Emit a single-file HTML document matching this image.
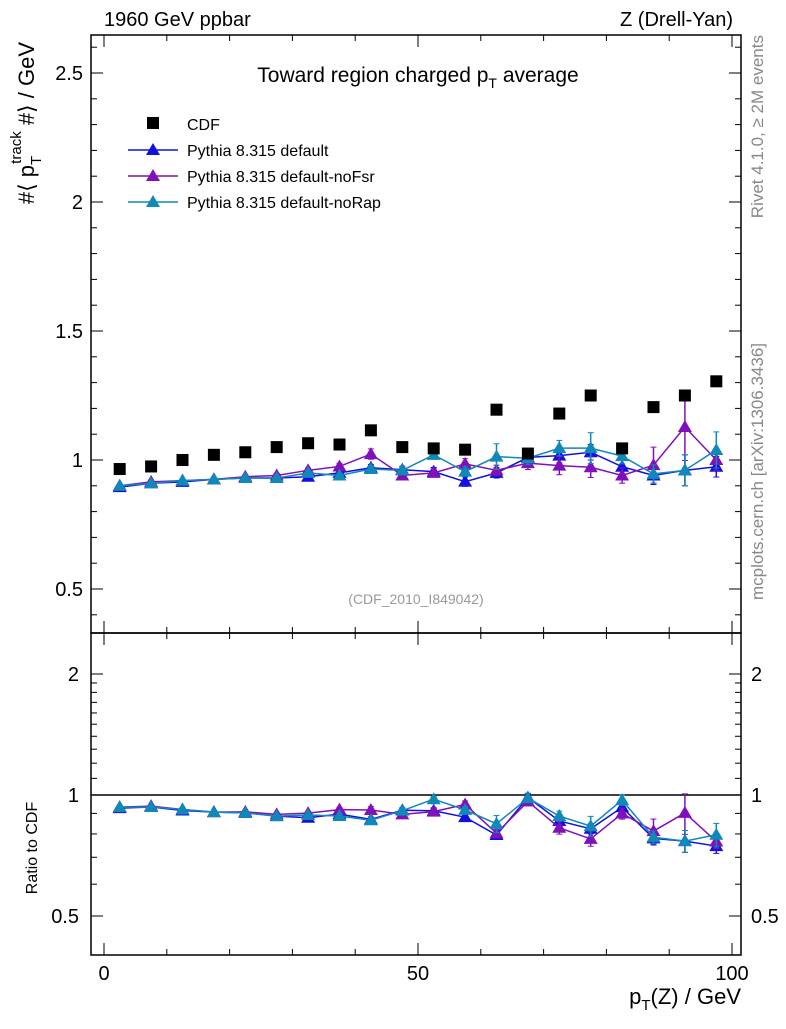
<!DOCTYPE html>
<html><head><meta charset="utf-8"><style>
body{margin:0;background:#fff;}
svg text{font-family:"Liberation Sans","DejaVu Sans",sans-serif;}
</style></head><body>
<svg id="c" width="786" height="1024" xmlns="http://www.w3.org/2000/svg"></svg>
<script>
const xCenters=[2.5,7.5,12.5,17.5,22.5,27.5,32.5,37.5,42.5,47.5,52.5,57.5,62.5,67.5,72.5,77.5,82.5,87.5,92.5,97.5];
const cdfVals=[0.965,0.975,1.0,1.02,1.03,1.05,1.065,1.06,1.115,1.05,1.045,1.04,1.195,1.025,1.18,1.25,1.045,1.205,1.25,1.305];
const defVals=[0.895,0.91,0.915,0.925,0.93,0.93,0.935,0.95,0.97,0.962,0.955,0.916,0.95,1.01,1.017,1.03,0.974,0.94,0.96,0.974];
const defErr=[0.005,0.005,0.006,0.006,0.007,0.008,0.009,0.01,0.012,0.014,0.016,0.018,0.02,0.025,0.028,0.03,0.03,0.035,0.06,0.04];
const nofsrVals=[0.9,0.915,0.92,0.925,0.935,0.94,0.96,0.975,1.023,0.94,0.95,0.985,0.96,0.988,0.978,0.972,0.94,0.98,1.128,1.0];
const nofsrErr=[0.005,0.005,0.006,0.006,0.007,0.008,0.009,0.012,0.02,0.014,0.016,0.02,0.02,0.025,0.035,0.04,0.03,0.07,0.13,0.04];
const norapVals=[0.9,0.91,0.92,0.925,0.93,0.93,0.95,0.94,0.965,0.96,1.02,0.955,1.013,1.007,1.046,1.046,1.015,0.946,0.96,1.039];
const norapErr=[0.005,0.005,0.006,0.006,0.007,0.008,0.009,0.01,0.012,0.014,0.016,0.018,0.05,0.025,0.03,0.06,0.03,0.035,0.06,0.07];
const mainTicks=[0.5,1,1.5,2,2.5];
const ratioTicks=[0.5,1,2];
const xTicks=[0,50,100];

const S=document.getElementById('c');
const NS='http://www.w3.org/2000/svg';
function el(t,a,p){const e=document.createElementNS(NS,t);for(const k in a)e.setAttribute(k,a[k]);(p||S).appendChild(e);return e;}
const L=91,R=741,T=35,M=633,B=955;
const X=v=>104+v*6.28;
const Y=v=>460-(v-1)*258;
const YR=v=>795-121*Math.log2(v);

let f1=el('rect',{x:L,y:T,width:R-L,height:M-T,fill:'none',stroke:'#000','stroke-width':1.5});


let f2=el('rect',{x:L,y:M,width:R-L,height:B-M,fill:'none',stroke:'#000','stroke-width':1.5});



for(let v=0;v<=100;v+=10){const major=v%50===0;const len=major?12:6;const x=X(v);
 el('line',{x1:x,x2:x,y1:M,y2:M-len,stroke:'#000'});el('line',{x1:x,x2:x,y1:T,y2:T+len,stroke:'#000'});
 el('line',{x1:x,x2:x,y1:B,y2:B-len,stroke:'#000'});el('line',{x1:x,x2:x,y1:M,y2:M+len,stroke:'#000'});}
xTicks.forEach(v=>{const t=el('text',{x:X(v),y:980,'font-size':20,'text-anchor':'middle'});t.textContent=v;
 
 });
for(let i=4;i<=26;i++){const v=i/10;const y=Y(v);if(y<T||y>M)continue;const major=i%5===0;const len=major?12:6;
 el('line',{x1:L,x2:L+len,y1:y,y2:y,stroke:'#000'});el('line',{x1:R,x2:R-len,y1:y,y2:y,stroke:'#000'});}
mainTicks.forEach(v=>{const t=el('text',{x:83,y:Y(v)+7,'font-size':20,'text-anchor':'end'});t.textContent=v;
 
 });
[0.5,0.6,0.7,0.8,0.9,1,1.1,1.2,1.3,1.4,1.5,1.6,1.7,1.8,1.9,2].forEach(v=>{const y=YR(v);const major=ratioTicks.includes(v);const len=major?12:6;
 el('line',{x1:L,x2:L+len,y1:y,y2:y,stroke:'#000'});el('line',{x1:R,x2:R-len,y1:y,y2:y,stroke:'#000'});});
ratioTicks.forEach(v=>{let t=el('text',{x:79,y:YR(v)+7,'font-size':20,'text-anchor':'end'});t.textContent=v;
 
 
 t=el('text',{x:751,y:YR(v)+7,'font-size':20});t.textContent=v;
 
 });
el('line',{x1:L,x2:R,y1:YR(1),y2:YR(1),stroke:'#000','stroke-width':1.5});

function txt(s,a,name){const t=el('text',a);t.innerHTML=s;return t;}
txt('1960 GeV ppbar',{x:104,y:26,'font-size':20},'energy-label');
txt('Z (Drell-Yan)',{x:733,y:26,'font-size':20,'text-anchor':'end'},'process-label');
txt('Toward region charged p<tspan font-size="14" dy="6">T</tspan><tspan dy="-6"> average</tspan>',{x:418,y:82,'font-size':21,'text-anchor':'middle'},'plot-title');
txt('(CDF_2010_I849042)',{x:416,y:604,'font-size':14,fill:'#999','text-anchor':'middle'},'analysis-label');
txt('p<tspan font-size="15" dy="6">T</tspan><tspan dy="-6">(Z) / GeV</tspan>',{x:741,y:1004,'font-size':22,'text-anchor':'end'},'x-axis-title');
txt('#⟨ p<tspan font-size="15" dy="7">T</tspan><tspan font-size="15" dy="-20" dx="-8">track</tspan><tspan dy="13"> #⟩ / GeV</tspan>',{x:0,y:0,'font-size':22,'text-anchor':'end',transform:'translate(34,42) rotate(-90)'},'y-axis-title');
txt('Ratio to CDF',{x:0,y:0,'font-size':16,'text-anchor':'middle',transform:'translate(37,848) rotate(-90)'},'ratio-axis-title');
txt('Rivet 4.1.0, ≥ 2M events',{x:0,y:0,'font-size':17,fill:'#888','text-anchor':'end',transform:'translate(763,35) rotate(-90)'},'rivet-label');
txt('mcplots.cern.ch [arXiv:1306.3436]',{x:0,y:0,'font-size':17,fill:'#888','text-anchor':'end',transform:'translate(763,343) rotate(-90)'},'mcplots-label');

function tri(x,y,c,g){el('polygon',{points:`${x},${y-7} ${x-7},${y+5} ${x+7},${y+5}`,fill:c},g);}
function series(vals,err,c,name){
 const g=el('g',{});
 el('polyline',{points:xCenters.map((x,i)=>X(x)+','+Y(vals[i])).join(' '),fill:'none',stroke:c,'stroke-width':1.5},g);
 el('polyline',{points:xCenters.map((x,i)=>X(x)+','+YR(vals[i]/cdfVals[i])).join(' '),fill:'none',stroke:c,'stroke-width':1.5},g);
 xCenters.forEach((x,i)=>{const px=X(x);
  const y1=Y(vals[i]+err[i]),y2=Y(vals[i]-err[i]);
  el('line',{x1:px,x2:px,y1:y1,y2:y2,stroke:c,'stroke-width':1.5},g);
  el('line',{x1:px-3,x2:px+3,y1:y1,y2:y1,stroke:c},g);el('line',{x1:px-3,x2:px+3,y1:y2,y2:y2,stroke:c},g);
  const r=vals[i]/cdfVals[i],re=err[i]/cdfVals[i];
  const r1=YR(r+re),r2=YR(r-re);
  el('line',{x1:px,x2:px,y1:r1,y2:r2,stroke:c,'stroke-width':1.5},g);
  el('line',{x1:px-3,x2:px+3,y1:r1,y2:r1,stroke:c},g);el('line',{x1:px-3,x2:px+3,y1:r2,y2:r2,stroke:c},g);
  tri(px,Y(vals[i]),c,g);tri(px,YR(r),c,g);});
}
series(defVals,defErr,'#1010e0','series-default');
series(nofsrVals,nofsrErr,'#8010b8','series-nofsr');
series(norapVals,norapErr,'#1088b8','series-norap');
const gc=el('g',{});
xCenters.forEach((x,i)=>el('rect',{x:X(x)-6,y:Y(cdfVals[i])-6,width:12,height:12,fill:'#000'},gc));

const lg=el('g',{});
el('rect',{x:147,y:117,width:12,height:12,fill:'#000'},lg);
txt('CDF',{x:187,y:130,'font-size':16},'legend-entry-cdf');
[['Pythia 8.315 default','#1010e0',150],['Pythia 8.315 default-noFsr','#8010b8',176],['Pythia 8.315 default-noRap','#1088b8',202]].forEach(([s,c,y])=>{
 el('line',{x1:128,x2:178,y1:y,y2:y,stroke:c,'stroke-width':1.5},lg);tri(153,y,c,lg);
 txt(s,{x:187,y:y+6,'font-size':16},'legend-entry');});
</script>
</body></html>
